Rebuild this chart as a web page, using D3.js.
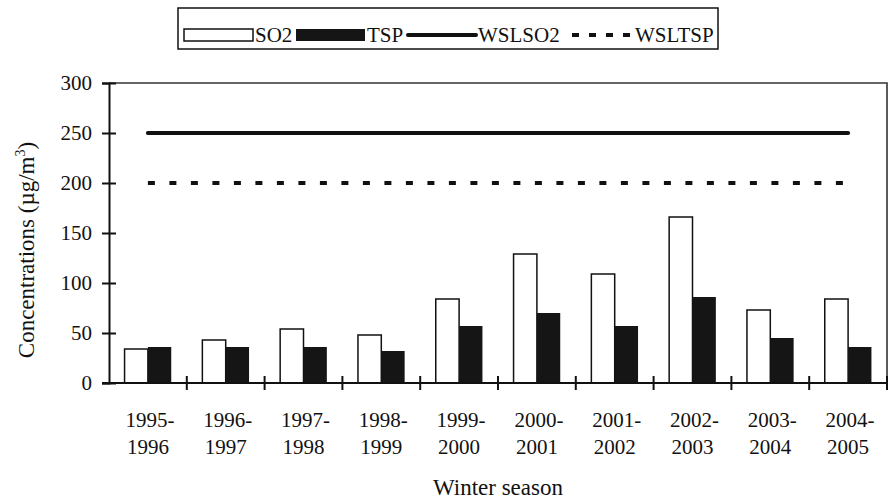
<!DOCTYPE html>
<html>
<head>
<meta charset="utf-8">
<script src="https://cdn.jsdelivr.net/npm/d3@7"></script>
<style>
  body { margin: 0; background: #fff; }
  svg, svg text { font-family: "Liberation Serif", "Times New Roman", serif; fill: #111; }
</style>
</head>
<body>
<svg id="chart" width="890" height="502"></svg>
<script>
// data
const seasons = ["1995-1996", "1996-1997", "1997-1998", "1998-1999", "1999-2000",
                 "2000-2001", "2001-2002", "2002-2003", "2003-2004", "2004-2005"]
const so2 = [34, 43, 54, 48, 84, 129, 109, 166, 73, 84]
const tsp = [36, 36, 36, 32, 57, 70, 57, 86, 45, 36]
const wslSo2 = 250
const wslTsp = 200
const yTicks = [0, 50, 100, 150, 200, 250, 300]

const width = 890, height = 502
const margin = { top: 83, right: 3, bottom: 119, left: 109 }
const serif = '"Liberation Serif", "Times New Roman", serif'

const svg = d3.select("#chart")

const x = d3.scaleBand()
    .domain(seasons)
    .range([margin.left, width - margin.right])
    .paddingInner(0).paddingOuter(0)

const y = d3.scaleLinear()
    .domain([0, 300])
    .range([height - margin.bottom, margin.top])

const barW = x.bandwidth() * 0.3

// plot frame (top + right)
svg.append("path")
    .attr("d", `M${x.range()[0]},${y(300)}H${x.range()[1]}V${y(0)}`)
    .attr("fill", "none")
    .attr("stroke", "#333")
    .attr("stroke-width", 1.6)

// bars
const groups = svg.append("g").selectAll("g")
    .data(seasons)
    .join("g")
    .attr("transform", d => `translate(${x(d) + x.bandwidth() / 2},0)`)

groups.append("rect")
    .attr("x", -barW)
    .attr("y", (d, i) => y(so2[i]))
    .attr("width", barW)
    .attr("height", (d, i) => y(0) - y(so2[i]))
    .attr("fill", "#fff")
    .attr("stroke", "#111")
    .attr("stroke-width", 1.5)

groups.append("rect")
    .attr("x", 0)
    .attr("y", (d, i) => y(tsp[i]))
    .attr("width", barW)
    .attr("height", (d, i) => y(0) - y(tsp[i]))
    .attr("fill", "#151515")

// limit lines
const xFirst = x(seasons[0]) + x.bandwidth() / 2
const xLast = x(seasons[seasons.length - 1]) + x.bandwidth() / 2

svg.append("line")
    .attr("x1", xFirst).attr("x2", xLast)
    .attr("y1", y(wslSo2)).attr("y2", y(wslSo2))
    .attr("stroke", "#111").attr("stroke-width", 4)
    .attr("stroke-linecap", "round")

svg.append("line")
    .attr("x1", xFirst).attr("x2", xLast - 5)
    .attr("y1", y(wslTsp)).attr("y2", y(wslTsp))
    .attr("stroke", "#111").attr("stroke-width", 4)
    .attr("stroke-dasharray", "7,14.5")

// y axis
const yAxis = svg.append("g")
    .attr("transform", `translate(${margin.left},0)`)
    .call(d3.axisLeft(y).tickValues(yTicks).tickSize(7).tickPadding(10))
    .attr("font-family", serif)
yAxis.select(".domain").attr("stroke", "#111").attr("stroke-width", 2)
yAxis.selectAll(".tick line").attr("x1", 7).attr("stroke", "#111").attr("stroke-width", 2)
yAxis.selectAll(".tick text")
    .attr("font-size", 21)
    .style("font-family", serif)
    .attr("fill", "#111")

// x axis: line + boundary ticks
const xAxis = svg.append("g")
svg.append("line")
    .attr("x1", x.range()[0] - 7).attr("x2", x.range()[1])
    .attr("y1", y(0)).attr("y2", y(0))
    .attr("stroke", "#111").attr("stroke-width", 2)

const edges = seasons.map(s => x(s)).slice(1).concat([x.range()[1]])
xAxis.selectAll("line.edge")
    .data(edges)
    .join("line")
    .attr("class", "edge")
    .attr("x1", d => d).attr("x2", d => d)
    .attr("y1", y(0) - 7).attr("y2", y(0) + 7)
    .attr("stroke", "#111").attr("stroke-width", 2)

const xLabels = xAxis.selectAll("text")
    .data(seasons)
    .join("text")
    .attr("text-anchor", "middle")
    .attr("font-size", 21)
    .style("font-family", serif)
xLabels.append("tspan")
    .attr("x", d => x(d) + x.bandwidth() / 2 + 2)
    .attr("y", y(0) + 44)
    .text(d => d.split("-")[0] + "-")
xLabels.append("tspan")
    .attr("x", d => x(d) + x.bandwidth() / 2)
    .attr("y", y(0) + 71)
    .text(d => d.split("-")[1])

// axis titles
svg.append("text")
    .attr("x", (x.range()[0] + x.range()[1]) / 2)
    .attr("y", 495)
    .attr("text-anchor", "middle")
    .attr("font-size", 23)
    .style("font-family", serif)
    .text("Winter season")

const yTitle = svg.append("text")
    .attr("transform", `translate(34,${(y(0) + y(300)) / 2 + 17}) rotate(-90)`)
    .attr("text-anchor", "middle")
    .attr("font-size", 23)
    .style("font-family", serif)
yTitle.append("tspan").text("Concentrations (\u00b5g/m")
yTitle.append("tspan").attr("font-size", 14).attr("dy", -9).text("3")
yTitle.append("tspan").attr("dy", 9).text(")")

// legend
const legend = svg.append("g")
legend.append("rect")
    .attr("x", 178).attr("y", 8)
    .attr("width", 540).attr("height", 41)
    .attr("fill", "#fff").attr("stroke", "#111").attr("stroke-width", 1.5)

const legendItems = [
    { name: "SO2", kind: "open", x: 184, w: 69 },
    { name: "TSP", kind: "solid", x: 296, w: 69 },
    { name: "WSLSO2", kind: "line", x: 408, w: 68 },
    { name: "WSLTSP", kind: "dash", x: 572, w: 58 }
]
const ly = 35
legendItems.forEach(it => {
    if (it.kind === "open") {
        legend.append("rect").attr("x", it.x).attr("y", ly - 6).attr("width", it.w).attr("height", 12)
            .attr("fill", "#fff").attr("stroke", "#111").attr("stroke-width", 1.5)
    } else if (it.kind === "solid") {
        legend.append("rect").attr("x", it.x).attr("y", ly - 6).attr("width", it.w).attr("height", 12)
            .attr("fill", "#151515")
    } else if (it.kind === "line") {
        legend.append("line").attr("x1", it.x).attr("x2", it.x + it.w).attr("y1", ly).attr("y2", ly)
            .attr("stroke", "#111").attr("stroke-width", 4).attr("stroke-linecap", "round")
    } else {
        legend.append("line").attr("x1", it.x).attr("x2", it.x + it.w).attr("y1", ly).attr("y2", ly)
            .attr("stroke", "#111").attr("stroke-width", 4).attr("stroke-dasharray", "7,10")
    }
    legend.append("text")
        .attr("x", it.x + it.w + (it.kind === "dash" ? 5 : 2))
        .attr("y", ly + 7)
        .attr("font-size", 21)
        .style("font-family", serif)
        .text(it.name)
})
</script>
</body>
</html>
